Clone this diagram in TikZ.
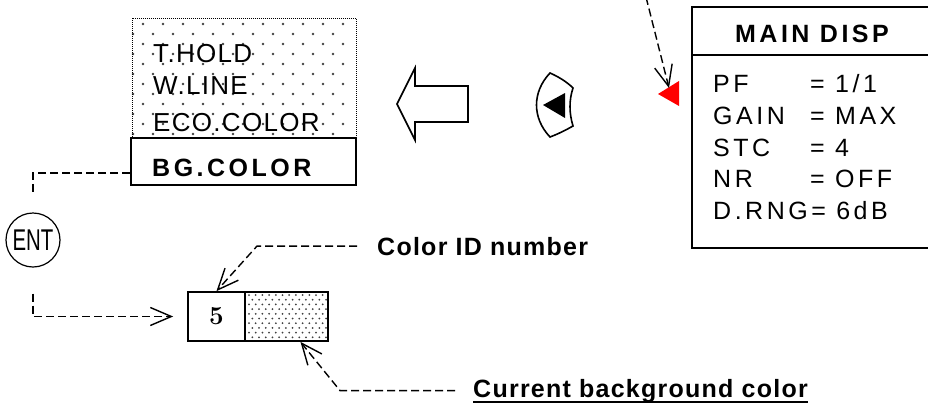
\documentclass[tikz,border=0pt]{standalone}
\usepackage{fontspec}
\usetikzlibrary{arrows.meta,calc}
\newfontfamily\dispfont[LetterSpace=14]{Liberation Sans}
\newfontfamily\menufont[LetterSpace=5]{Liberation Sans}
\newfontfamily\entfont{Liberation Sans}
\begin{document}
\begin{tikzpicture}[x=1pt,y=-1pt,
    conn/.style={dash pattern=on 8pt off 4pt, line width=1.4pt},
    barb/.style={-{Straight Barb[length=21pt,width=18pt,line width=1.4pt]}},
    box/.style={draw, line width=1.8pt, inner sep=0pt},
    txt/.style={anchor=base west, inner sep=0pt}]
\useasboundingbox (0,0) rectangle (928,407);

% menu list with dotted background
\foreach \r in {0,...,11}
  \foreach \k in {0,...,10}
    \fill[black!75] ({143-10*mod(\r,2)+20*\k},{24+10*\r}) circle (1.4);
\node[draw, densely dotted, line width=1pt, minimum width=224pt, minimum height=120pt, inner sep=0pt] (menu) at (244,78) {};
\node[txt, font=\menufont\fontsize{26}{30}\selectfont] (thold) at (153,62) {T.HOLD};
\node[txt, font=\menufont\fontsize{26}{30}\selectfont] (wline) at (153,94) {W.LINE};
\node[txt, font=\menufont\fontsize{26}{30}\selectfont] (eco) at (153,131) {ECO.COLOR};
\node[box, fill=white, minimum width=225pt, minimum height=47pt] (bgcolor) at (243.5,161.5) {};
\node[txt, font=\dispfont\bfseries\fontsize{25}{30}\selectfont] (bgtext) at (152,176) {BG.COLOR};

% hollow arrow and knob
\draw[line width=1.6pt, line join=miter] (397,104) -- (415,68) -- (415,86) -- (468,86)
  -- (468,122) -- (415,122) -- (415,140) -- cycle;
\draw[line width=1.6pt] (550,73) .. controls (559,77) and (567,82) .. (573,88)
  .. controls (569,100) and (569,113) .. (573,126)
  .. controls (566,130) and (558,134) .. (550,137)
  .. controls (532,118) and (532,92) .. (550,73) -- cycle;
\fill (543,105) -- (565,93) -- (565,118) -- cycle;

% cursor
\fill[red] (658,94) -- (679,81) -- (679,106) -- cycle;
\coordinate (cursor) at (669,88);
\coordinate (fromtop) at (646,-3);
\draw[conn, barb] (fromtop) -- (cursor);

% main display
\node[draw, line width=1.5pt, minimum width=250pt, minimum height=241pt, inner sep=0pt] (disp) at (817,127.5) {};
\draw[line width=1.5pt] (disp.west |- 0,55) -- (disp.east |- 0,55);
\node[anchor=base, inner sep=0pt, font=\dispfont\bfseries\fontsize{25}{30}\selectfont] (dhead) at (812,42) {MAIN DISP};
\foreach \key/\val [count=\i] in {PF/{= 1/1}, GAIN/{= MAX}, STC/{= 4}, NR/{= OFF}} {
  \node[txt, font=\dispfont\fontsize{25}{30}\selectfont] (dk\i) at (713,{92.5+31.8*(\i-1)}) {\key};
  \node[txt, font=\dispfont\fontsize{25}{30}\selectfont] (dv\i) at (810,{92.5+31.8*(\i-1)}) {\val};
}
\node[txt, font=\dispfont\fontsize{25}{30}\selectfont] (dk5) at (713,219.7) {D.RNG= 6dB};

% ENT key
\node[draw, circle, line width=1.2pt, minimum size=54pt, inner sep=0pt, font=\entfont\fontsize{30}{32}\selectfont] (ent) at (33,240) {\scalebox{0.68}[1]{ENT}};
\draw[conn, shorten >=18pt] ([yshift=-11.5pt]bgcolor.west) -| (ent.north);

% colour setting
\foreach \r in {0,...,9}
  \foreach \k in {0,...,11}
    \fill[black!75] ({249+3.35*mod(\r,2)+6.7*\k},{295+4.7*\r}) circle (1.0);
\node[box, minimum width=57pt, minimum height=49pt, font=\bfseries\fontsize{26}{28}\selectfont] (idbox) at (216.5,316.5) {5};
\node[box, minimum width=83pt, minimum height=49pt] (colorbox) at (286.5,316.5) {};
\draw[conn, barb, shorten <=26pt, shorten >=14pt] (ent.south) |- (idbox.west);

% labels
\node[txt, font=\menufont\bfseries\fontsize{25}{30}\selectfont] (idlabel) at (377,255) {Color ID number};
\node[txt, font=\menufont\bfseries\fontsize{25}{30}\selectfont] (bglabel) at (473,397) {Current background color};
\draw[line width=2.5pt] ([yshift=-5pt]bglabel.base west) -- ([yshift=-5pt]bglabel.base east);
\draw[conn, barb] ([xshift=-20pt]idlabel.west) -- ++(-100,0) -- (idbox.north);
\draw[conn, barb] ([xshift=-18pt]bglabel.west) -- ++(-115,0) -- ($(colorbox.south)+(14,0)$);
\end{tikzpicture}
\end{document}
